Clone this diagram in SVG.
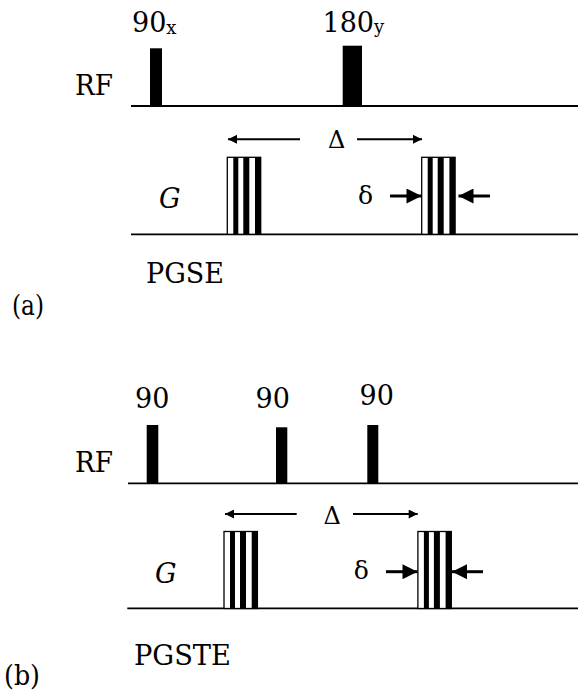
<svg xmlns="http://www.w3.org/2000/svg" width="578" height="700" viewBox="0 0 578 700">
<style>
text{font-family:'DejaVu Serif', 'Liberation Serif', serif;fill:#000}
.lbl{font-size:27px}
.sub{font-size:18px}
.it{font-style:italic}
.axis{stroke:#000;stroke-width:1.8;fill:none}
.rf{fill:#000}
.thin{stroke:#000;stroke-width:2;fill:none}
.thick{stroke:#000;stroke-width:3;fill:none}
.dl{font-size:24px}
.sd{font-size:25px}
.pl{font-size:27px}
</style>
<defs>
<g id="gp">
<rect x="0" y="0" width="33.4" height="77" fill="#fff" stroke="#000" stroke-width="1.3"/>
<rect x="6" y="0" width="5" height="77" fill="#000"/>
<rect x="16" y="0" width="6" height="77" fill="#000"/>
<rect x="27.7" y="0" width="5.7" height="77" fill="#000"/>
</g>
<marker id="ah" viewBox="0 0 10 10" refX="10" refY="5" markerWidth="10" markerHeight="9" markerUnits="userSpaceOnUse" orient="auto"><path d="M0,0 L10,5 L0,10 Z" fill="#000"/></marker>
<marker id="ahb" viewBox="0 0 10 10" refX="10" refY="5" markerWidth="16" markerHeight="15" markerUnits="userSpaceOnUse" orient="auto"><path d="M0,0 L10,5 L0,10 Z" fill="#000"/></marker>
</defs>

<!-- (a) PGSE -->
<g id="a-rf-axis"><text class="lbl" x="75" y="95" textLength="38" lengthAdjust="spacingAndGlyphs">RF</text><line class="axis" x1="131" y1="106" x2="578" y2="106"/></g>
<g id="a-90x"><rect class="rf" x="150" y="48.3" width="12" height="57.7"/><text class="lbl" x="132" y="32">90<tspan class="sub" dy="2">x</tspan></text></g>
<g id="a-180y"><rect class="rf" x="342.7" y="45.7" width="19.3" height="60.3"/><text class="lbl" x="322.5" y="32">180<tspan class="sub" dy="1">y</tspan></text></g>
<g id="a-g-axis"><text class="lbl it" x="159" y="208">G</text><line class="axis" x1="131" y1="234.3" x2="578" y2="234.3"/></g>
<g id="a-grad1"><use href="#gp" x="227.3" y="157.3"/></g>
<g id="a-grad2"><use href="#gp" x="421.7" y="157.3"/></g>
<g id="a-Delta"><text class="dl" x="328" y="148">Δ</text></g>
<g id="a-delta"><text class="sd" x="358" y="204">δ</text></g>
<g id="a-title"><text class="lbl" x="146" y="283" textLength="78" lengthAdjust="spacingAndGlyphs">PGSE</text></g>
<g id="a-label"><text class="pl" x="12" y="315" textLength="32" lengthAdjust="spacingAndGlyphs">(a)</text></g>

<!-- (b) PGSTE -->
<g id="b-rf-axis"><text class="lbl" x="75" y="472" textLength="38" lengthAdjust="spacingAndGlyphs">RF</text><line class="axis" x1="128" y1="483.3" x2="578" y2="483.3"/></g>
<g id="b-90-1"><rect class="rf" x="146.7" y="425" width="11.6" height="58.3"/><text class="lbl" x="135" y="407.7">90</text></g>
<g id="b-90-2"><rect class="rf" x="276" y="427.3" width="11.3" height="56"/><text class="lbl" x="255.5" y="408.3">90</text></g>
<g id="b-90-3"><rect class="rf" x="367.3" y="425" width="11" height="58.3"/><text class="lbl" x="359.5" y="405">90</text></g>
<g id="b-g-axis"><text class="lbl it" x="155" y="582.7">G</text><line class="axis" x1="127.3" y1="608.3" x2="578" y2="608.3"/></g>
<g id="b-grad1"><use href="#gp" x="224" y="531.5"/></g>
<g id="b-grad2"><use href="#gp" x="417.9" y="531.5"/></g>
<g id="b-Delta"><text class="dl" x="323.5" y="524">Δ</text></g>
<g id="b-delta"><text class="sd" x="353.7" y="579">δ</text></g>
<g id="b-title"><text class="lbl" x="134" y="665" textLength="97" lengthAdjust="spacingAndGlyphs">PGSTE</text></g>
<g id="b-label"><text class="pl" x="4" y="685" textLength="36" lengthAdjust="spacingAndGlyphs">(b)</text></g>

<g id="connectors">
<line class="thin" x1="300" y1="139.3" x2="228" y2="139.3" marker-end="url(#ah)"/>
<line class="thin" x1="357" y1="139.3" x2="422" y2="139.3" marker-end="url(#ah)"/>
<line class="thick" x1="390" y1="196" x2="421.5" y2="196" marker-end="url(#ahb)"/>
<line class="thick" x1="490" y1="196" x2="458.5" y2="196" marker-end="url(#ahb)"/>
<line class="thin" x1="296.7" y1="514" x2="225" y2="514" marker-end="url(#ah)"/>
<line class="thin" x1="353" y1="514" x2="417.7" y2="514" marker-end="url(#ah)"/>
<line class="thick" x1="386" y1="571.7" x2="417.5" y2="571.7" marker-end="url(#ahb)"/>
<line class="thick" x1="483" y1="571.7" x2="452" y2="571.7" marker-end="url(#ahb)"/>
</g>
</svg>
